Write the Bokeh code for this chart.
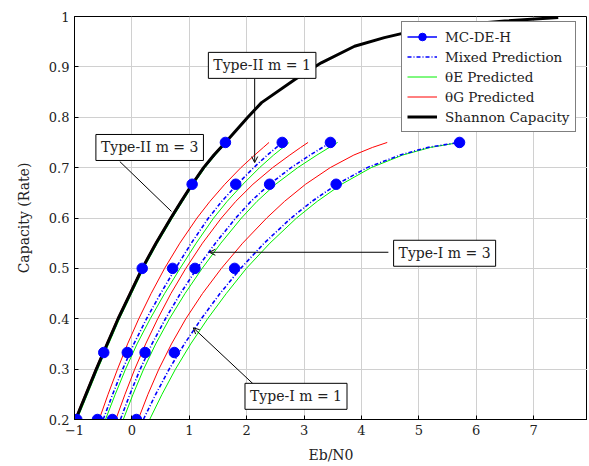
from bokeh.plotting import figure
from bokeh.models import Range1d, FixedTicker, Legend, LegendItem, Label, Arrow, OpenHead
from bokeh.embed import file_html
from bokeh.resources import INLINE

# ---------------- data ----------------
x_ticks = [-1, 0, 1, 2, 3, 4, 5, 6, 7, 8]
y_ticks = [0.2, 0.3, 0.4, 0.5, 0.6, 0.7, 0.8, 0.9, 1.0]

shannon_ebn0 = [-0.98, -0.80, -0.62, -0.43, -0.24, -0.03, 0.18, 0.42, 0.68, 0.86, 1.05, 1.25,
                1.43, 1.63, 2.02, 2.26, 2.84, 3.30, 3.88, 4.40, 4.81, 5.30, 5.80, 6.50, 7.43]
shannon_rate = [0.2, 0.25, 0.3, 0.35, 0.4, 0.45, 0.5, 0.55, 0.6, 0.633, 0.667, 0.7,
                0.725, 0.75, 0.8, 0.829, 0.875, 0.908, 0.941, 0.958, 0.969, 0.977, 0.984, 0.991, 0.998]

# MC-DE-H simulated points
dot_rate = [0.2, 0.333, 0.5, 0.667, 0.75]
dots_t2m3 = [-0.96, -0.49, 0.18, 1.05, 1.63]
dots_t2m1 = [-0.60, -0.08, 0.71, 1.81, 2.62]
dots_t1m3 = [-0.34, 0.23, 1.10, 2.40, 3.46]
dots_t1m1 = [0.08, 0.74, 1.79, 3.56, 5.71]

# common rate grid of the prediction curves
pred_rate = [0.2, 0.25, 0.3, 0.35, 0.4, 0.45, 0.5, 0.55, 0.6, 0.633, 0.667, 0.7, 0.725, 0.74, 0.75]

# Type-II m = 3
t2m3_red = [-0.995, -0.815, -0.635, -0.445, -0.255, -0.045, 0.165, 0.405, 0.665, 0.845, 1.035, 1.235, 1.415, 1.535, 1.615]
t2m3_green = [-0.955, -0.775, -0.595, -0.405, -0.215, -0.005, 0.205, 0.445, 0.705, 0.885, 1.075, 1.275, 1.455, 1.575, 1.655]
t2m3_mix = [-0.97, -0.79, -0.61, -0.42, -0.23, -0.02, 0.19, 0.43, 0.69, 0.87, 1.06, 1.26, 1.44, 1.56, 1.64]

# Type-II m = 1
t2m1_red = [-0.57, -0.415, -0.25, -0.075, 0.12, 0.335, 0.57, 0.835, 1.135, 1.36, 1.62, 1.90, 2.14, 2.29, 2.39]
t2m1_mix = [-0.50, -0.335, -0.16, 0.035, 0.255, 0.50, 0.76, 1.035, 1.335, 1.566, 1.838, 2.122, 2.362, 2.52, 2.622]
t2m1_green = [-0.46, -0.29, -0.11, 0.09, 0.32, 0.57, 0.84, 1.12, 1.425, 1.66, 1.935, 2.225, 2.47, 2.635, 2.74]

# Type-I m = 3
t1m3_red = [-0.28, -0.12, 0.05, 0.24, 0.45, 0.68, 0.94, 1.23, 1.56, 1.81, 2.11, 2.453, 2.753, 2.94, 3.07]
t1m3_mix = [-0.20, -0.035, 0.145, 0.35, 0.585, 0.845, 1.135, 1.455, 1.81, 2.074, 2.40, 2.776, 3.106, 3.32, 3.466]
t1m3_green = [-0.15, 0.02, 0.205, 0.415, 0.655, 0.925, 1.225, 1.55, 1.91, 2.18, 2.505, 2.89, 3.225, 3.44, 3.585]

# Type-I m = 1
t1m1_red = [0.11, 0.28, 0.47, 0.69, 0.94, 1.23, 1.56, 1.93, 2.35, 2.66, 3.027, 3.456, 3.868, 4.19, 4.45]
t1m1_mix = [0.20, 0.415, 0.65, 0.915, 1.21, 1.535, 1.895, 2.305, 2.775, 3.138, 3.573, 4.101, 4.676, 5.15, 5.70]
t1m1_green = [0.31, 0.525, 0.76, 1.025, 1.32, 1.645, 1.995, 2.405, 2.87, 3.23, 3.655, 4.17, 4.72, 5.20, 5.71]

# annotation boxes: text, centre (x, y)
box_texts = ["Type-II m = 3", "Type-II m = 1", "Type-I m = 3", "Type-I m = 1"]
box_x = [0.31, 2.27, 5.45, 2.86]
box_y = [0.740, 0.903, 0.530, 0.246]
# leader lines: start (x, y) -> end (x, y), arrow head?
lead_x0 = [-0.21, 2.14, 4.47, 2.11]
lead_y0 = [0.712, 0.876, 0.532, 0.271]
lead_x1 = [0.69, 2.14, 1.35, 1.07]
lead_y1 = [0.613, 0.710, 0.532, 0.382]
lead_head = [False, True, True, True]

FONT = "DejaVu Serif"
BLUE = "#0000ff"
RED = "#ff0000"
GREEN = "#00f000"

p = figure(width=587, height=465, output_backend="svg", toolbar_location=None,
           x_range=Range1d(-1, 7.94), y_range=Range1d(0.2, 1.0),
           min_border_left=74, min_border_right=0, min_border_top=16, min_border_bottom=46)

p.background_fill_color = "white"
p.border_fill_color = "white"
p.outline_line_color = "black"
p.outline_line_width = 1

p.xaxis.ticker = FixedTicker(ticks=x_ticks)
p.yaxis.ticker = FixedTicker(ticks=y_ticks)
p.xaxis.major_label_overrides = {-1: "\u22121"}
p.yaxis.major_label_overrides = {1: "1"}
for ax in (p.xaxis, p.yaxis):
    ax.axis_line_color = "black"
    ax.major_tick_in = 4
    ax.major_tick_out = 0
    ax.minor_tick_line_color = None
    ax.major_label_text_font = FONT
    ax.major_label_text_font_size = "13px"
    ax.major_label_text_color = "#222222"
    ax.axis_label_text_font = FONT
    ax.axis_label_text_font_size = "14px"
    ax.axis_label_text_font_style = "normal"
    ax.axis_label_text_color = "#222222"
p.xaxis.major_label_standoff = 5
p.xaxis.axis_label_standoff = 9
p.yaxis.major_label_standoff = 5
p.yaxis.axis_label_standoff = 14
p.xaxis.axis_label = "Eb/N0"
p.yaxis.axis_label = "Capacity (Rate)"

p.xgrid.grid_line_color = "#d0d0d0"
p.ygrid.grid_line_color = "#d0d0d0"
p.xgrid.grid_line_width = 1
p.ygrid.grid_line_width = 1

groups = [
    (t2m3_red, t2m3_green, t2m3_mix),
    (t2m1_red, t2m1_green, t2m1_mix),
    (t1m3_red, t1m3_green, t1m3_mix),
    (t1m1_red, t1m1_green, t1m1_mix),
]

red_r = green_r = mix_r = None
for red, green, mix in groups:
    red_r = p.line(red, pred_rate, line_color=RED, line_width=1)
    green_r = p.line(green, pred_rate, line_color=GREEN, line_width=1)
    mix_r = p.line(mix, pred_rate, line_color=BLUE, line_width=1.6, line_dash="4 2 1 2")

shannon_r = p.line(shannon_ebn0, shannon_rate, line_color="black", line_width=3)

dot_r = None
for dots in (dots_t2m3, dots_t2m1, dots_t1m3, dots_t1m1):
    dot_r = p.scatter(dots, dot_rate, size=10.5, marker="circle",
                      fill_color=BLUE, line_color=BLUE)

# legend-only line for the MC-DE-H entry: a one-point line draws nothing in the plot
legend_line = p.line(dots_t2m3[:1], dot_rate[:1], line_color=BLUE, line_width=1.5)

legend = Legend(items=[
    LegendItem(label="MC-DE-H", renderers=[legend_line, dot_r]),
    LegendItem(label="Mixed Prediction", renderers=[mix_r]),
    LegendItem(label="\u03b8E Predicted", renderers=[green_r]),
    LegendItem(label="\u03b8G Predicted", renderers=[red_r]),
    LegendItem(label="Shannon Capacity", renderers=[shannon_r]),
], location=(327, 287))
legend.border_line_color = "black"
legend.border_line_width = 1
legend.background_fill_alpha = 1
legend.label_text_font = FONT
legend.label_text_font_size = "13.5px"
legend.label_text_color = "#222222"
legend.padding = 5
legend.spacing = 1
legend.margin = 0
legend.glyph_width = 30
legend.glyph_height = 19
legend.label_height = 19
legend.label_standoff = 8
p.add_layout(legend)

for x0, y0, x1, y1, head in zip(lead_x0, lead_y0, lead_x1, lead_y1, lead_head):
    p.add_layout(Arrow(x_start=x0, y_start=y0, x_end=x1, y_end=y1,
                       end=OpenHead(size=6, line_width=1, line_color="black") if head else None,
                       line_color="black", line_width=1))

for t, bx, by in zip(box_texts, box_x, box_y):
    p.add_layout(Label(x=bx, y=by, text=t, text_align="center", text_baseline="middle",
                       text_font=FONT, text_font_size="14px", text_color="#222222",
                       border_line_color="black", border_line_width=1,
                       background_fill_color="white", background_fill_alpha=1, padding=5))

open("out.html", "w").write(file_html(p, INLINE))
